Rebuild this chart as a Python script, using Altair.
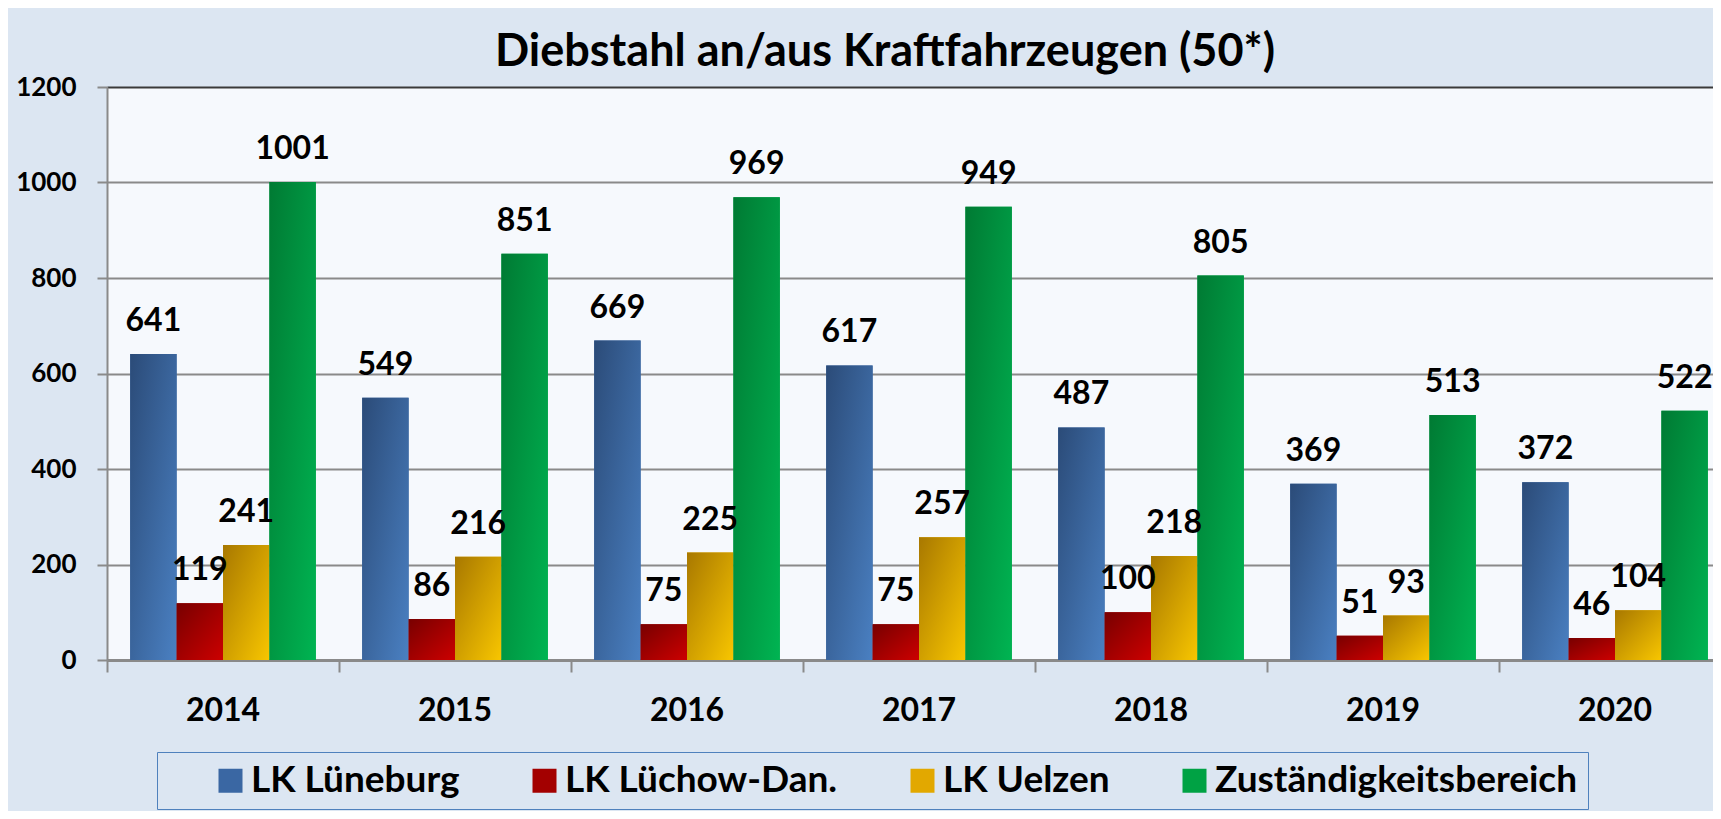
import altair as alt
import pandas as pd

years = ["2014", "2015", "2016", "2017", "2018", "2019", "2020"]
series = ["LK Lüneburg", "LK Lüchow-Dan.", "LK Uelzen", "Zuständigkeitsbereich"]
lueneburg = [641, 549, 669, 617, 487, 369, 372]
luechow = [119, 86, 75, 75, 100, 51, 46]
uelzen = [241, 216, 225, 257, 218, 93, 104]
zustaendig = [1001, 851, 969, 949, 805, 513, 522]
y_ticks = [0, 200, 400, 600, 800, 1000, 1200]

title_text = "Diebstahl an/aus Kraftfahrzeugen (50*)"

mid_colors = ["#3a67a3", "#a30000", "#e2a800", "#00a244"]
dark_colors = ["#2b4b78", "#780000", "#a87800", "#007a33"]
light_colors = ["#4a80c2", "#cc0000", "#f8c600", "#00b452"]

rows = []
for name, vals in zip(series, [lueneburg, luechow, uelzen, zustaendig]):
    for yr, v in zip(years, vals):
        rows.append({"Jahr": yr, "Bereich": name, "Anzahl": v})
df = pd.DataFrame(rows)


def grad(dark, light):
    return {
        "gradient": "linear",
        "x1": 0, "y1": 0, "x2": 1, "y2": 1,
        "stops": [{"offset": 0, "color": dark}, {"offset": 1, "color": light}],
    }


FONT = "Lato"
GRAY = "#8a8a8a"

x_enc = alt.X(
    "Jahr:N",
    sort=years,
    scale=alt.Scale(range=[0, 1624], paddingInner=0, paddingOuter=0),
    axis=alt.Axis(
        title=None,
        labelAngle=0,
        bandPosition=0,
        labelOverlap=False,
        tickSize=12,
        tickWidth=2,
        tickColor=GRAY,
        domainColor=GRAY,
        domainWidth=3,
        labelFont=FONT,
        labelFontSize=32,
        labelFontWeight="bold",
        labelColor="black",
        labelPadding=23,
        grid=False,
    ),
)
xoff_enc = alt.XOffset(
    "Bereich:N", sort=series, scale=alt.Scale(paddingInner=0, paddingOuter=0.5)
)
y_enc = alt.Y(
    "Anzahl:Q",
    scale=alt.Scale(domain=[0, 1200], nice=False),
    axis=alt.Axis(
        title=None,
        values=y_ticks,
        format="d",
        tickSize=10,
        tickWidth=2,
        tickColor=GRAY,
        domainColor=GRAY,
        domainWidth=2,
        labelFont=FONT,
        labelFontSize=26,
        labelFontWeight="bold",
        labelColor="black",
        labelPadding=21,
        grid=True,
        gridWidth=2,
        gridColor={
            "condition": {"test": "datum.value == 1200", "value": "#3a3a3a"},
            "value": GRAY,
        },
    ),
)

base = alt.Chart(df)

legend_bars = base.mark_bar().encode(
    x=x_enc,
    xOffset=xoff_enc,
    y=y_enc,
    color=alt.Color(
        "Bereich:N",
        sort=series,
        scale=alt.Scale(domain=series, range=mid_colors),
        legend=alt.Legend(
            title=" ",
            titleOrient="left",
            titleFontSize=10,
            titlePadding=45,
            orient="none",
            legendX=50,
            legendY=665,
            direction="horizontal",
            columns=4,
            symbolType="square",
            symbolSize=576,
            symbolStrokeWidth=0,
            labelFont=FONT,
            labelFontSize=37,
            labelFontWeight="bold",
            labelColor="black",
            labelOffset=2,
            labelLimit=600,
            columnPadding=66,
            padding=10,
            fillColor="#dce6f2",
            strokeColor="#4f81bd",
        ),
    ),
)

conds = [
    {"test": f"datum.Bereich === '{s}'", "value": grad(d, l)}
    for s, d, l in zip(series[:-1], dark_colors[:-1], light_colors[:-1])
]
grad_bars = base.mark_bar().encode(
    x=x_enc,
    xOffset=xoff_enc,
    y=y_enc,
    fill={"condition": conds, "value": grad(dark_colors[-1], light_colors[-1])},
)

labels = base.mark_text(
    font=FONT, fontSize=32, fontWeight="bold", baseline="alphabetic", dy=-23, color="black"
).encode(
    x=x_enc,
    xOffset=xoff_enc,
    y=y_enc,
    text=alt.Text("Anzahl:Q"),
)

chart = (
    alt.layer(legend_bars, grad_bars, labels)
    .properties(
        width=1606,
        height=573,
        autosize=alt.AutoSizeParams(type="none"),
        padding={"left": 99, "top": 79, "right": 0, "bottom": 151},
        background="#dce6f2",
        title=alt.TitleParams(
            title_text,
            font=FONT,
            fontSize=45,
            fontWeight="bold",
            color="black",
            anchor="middle",
            frame="group",
            offset=-1,
            dx=-25,
        ),
    )
    .configure_view(fill="#f6f9fd", stroke="transparent")
)

chart.save("out.html", embed_options={"renderer": "svg", "actions": False})
